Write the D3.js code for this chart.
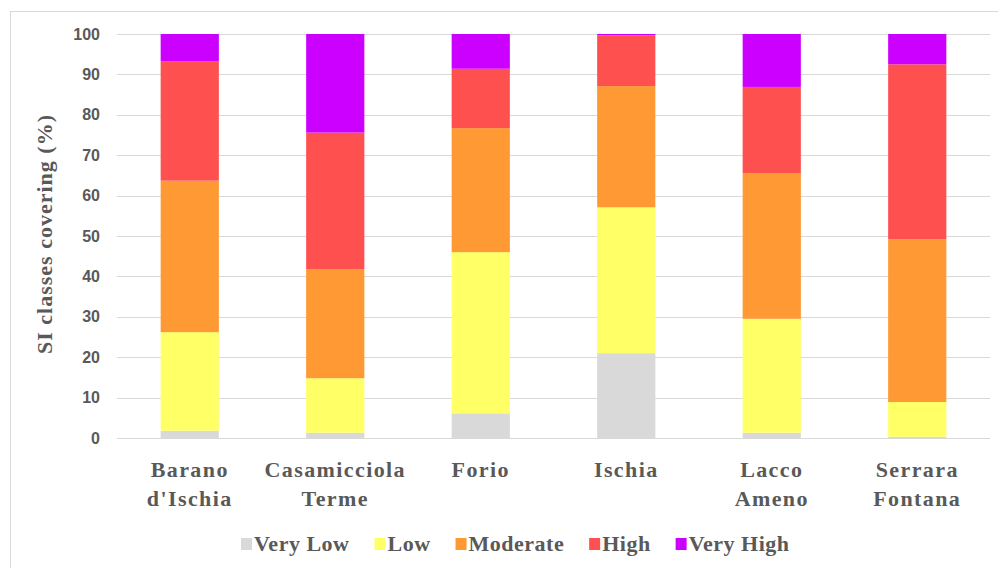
<!DOCTYPE html>
<html>
<head>
<meta charset="utf-8">
<script src="https://cdn.jsdelivr.net/npm/d3@7"></script>
<style>
  html, body { margin: 0; padding: 0; background: #ffffff; }
  svg { display: block; }
  .serif { font-family: "Liberation Serif", "Times New Roman", Times, "DejaVu Serif", serif; font-weight: bold; }
</style>
</head>
<body>
<svg id="chart" width="998" height="568"></svg>
<script>
// Municipalities of Ischia (two-line labels)
const municipalities = ["Barano d'Ischia", "Casamicciola Terme", "Forio", "Ischia", "Lacco Ameno", "Serrara Fontana"];
const labelLines = [["Barano", "d'Ischia"], ["Casamicciola", "Terme"], ["Forio"], ["Ischia"], ["Lacco", "Ameno"], ["Serrara", "Fontana"]];

// SI classes and their share of each municipality (%)
const classes = ["Very Low", "Low", "Moderate", "High", "Very High"];
const veryLow  = [1.8, 1.3, 6.1, 21.0, 1.3, 0.3];
const low      = [24.4, 13.5, 39.9, 36.1, 28.2, 8.6];
const moderate = [37.5, 27.0, 30.7, 30.0, 36.0, 40.3];
const high     = [29.6, 33.8, 14.7, 12.6, 21.4, 43.3];
const veryHigh = [6.7, 24.4, 8.6, 0.3, 13.1, 7.5];
const classColors = ["#d9d9d9", "#ffff66", "#ff9933", "#ff5050", "#cc00ff"];

const yTicks = [0, 10, 20, 30, 40, 50, 60, 70, 80, 90, 100];

const series = [veryLow, low, moderate, high, veryHigh];
const rows = municipalities.map((m, i) => {
  const r = { name: m };
  classes.forEach((c, k) => { r[c] = series[k][i]; });
  return r;
});

const svg = d3.select("#chart");
const textGray = "#595959";

// outer frame
svg.append("rect")
  .attr("x", 10.5).attr("y", 11.5)
  .attr("width", 995).attr("height", 570)
  .attr("fill", "none").attr("stroke", "#d9d9d9").attr("stroke-width", 1);

const plot = { left: 117, right: 990, top: 34, bottom: 438 };

const x = d3.scaleBand()
  .domain(municipalities)
  .range([plot.left, plot.right])
  .paddingInner(0.6)
  .paddingOuter(0.3);

const y = d3.scaleLinear().domain([0, 100]).range([plot.bottom, plot.top]);

// horizontal gridlines
svg.append("g")
  .selectAll("line")
  .data(yTicks)
  .join("line")
  .attr("x1", plot.left).attr("x2", plot.right)
  .attr("y1", d => Math.round(y(d)) + 0.5).attr("y2", d => Math.round(y(d)) + 0.5)
  .attr("stroke", "#d9d9d9").attr("stroke-width", 1.2);

// y tick labels
const yAxis = d3.axisLeft(y).tickValues(yTicks).tickSize(0).tickPadding(0);
const yAxisG = svg.append("g")
  .attr("transform", `translate(${plot.left - 17},0)`)
  .call(yAxis);
yAxisG.select(".domain").remove();
yAxisG.selectAll("text")
  .attr("fill", textGray)
  .style("font-family", "'Liberation Sans', Arial, sans-serif")
  .style("font-weight", "bold")
  .style("font-size", "16px");

// stacked bars
const stack = d3.stack().keys(classes);
const layers = stack(rows);

svg.append("g")
  .selectAll("g")
  .data(layers)
  .join("g")
  .attr("fill", (d, i) => classColors[i])
  .selectAll("rect")
  .data(d => d)
  .join("rect")
  .attr("x", d => x(d.data.name))
  .attr("width", x.bandwidth())
  .attr("y", d => y(d[1]))
  .attr("height", d => y(d[0]) - y(d[1]));

// category labels
const xLabels = svg.append("g")
  .selectAll("text")
  .data(municipalities)
  .join("text")
  .attr("class", "serif")
  .attr("x", d => x(d) + x.bandwidth() / 2)
  .attr("y", 477)
  .attr("text-anchor", "middle")
  .attr("fill", textGray)
  .style("font-size", "22px")
  .style("letter-spacing", "1.4px");

xLabels.each(function(d, i) {
  const t = d3.select(this);
  labelLines[i].forEach((line, j) => {
    t.append("tspan")
      .attr("x", x(d) + x.bandwidth() / 2)
      .attr("dy", j === 0 ? 0 : 29)
      .text(line);
  });
});

// y-axis title
svg.append("text")
  .attr("class", "serif")
  .attr("transform", "translate(52,234) rotate(-90)")
  .attr("text-anchor", "middle")
  .attr("fill", textGray)
  .style("font-size", "22px")
  .style("letter-spacing", "1px")
  .text("SI classes covering (%)");

// legend
const legend = svg.append("g");
let lx = 241;
classes.forEach((c, i) => {
  legend.append("rect")
    .attr("x", lx).attr("y", 538)
    .attr("width", 11).attr("height", 12)
    .attr("fill", classColors[i]);
  const t = legend.append("text")
    .attr("class", "serif")
    .attr("x", lx + 13).attr("y", 551)
    .attr("fill", textGray)
    .style("font-size", "22px")
    .style("letter-spacing", "0.5px")
    .text(c);
  lx += 13 + t.node().getComputedTextLength() + 25;
});
</script>
</body>
</html>
